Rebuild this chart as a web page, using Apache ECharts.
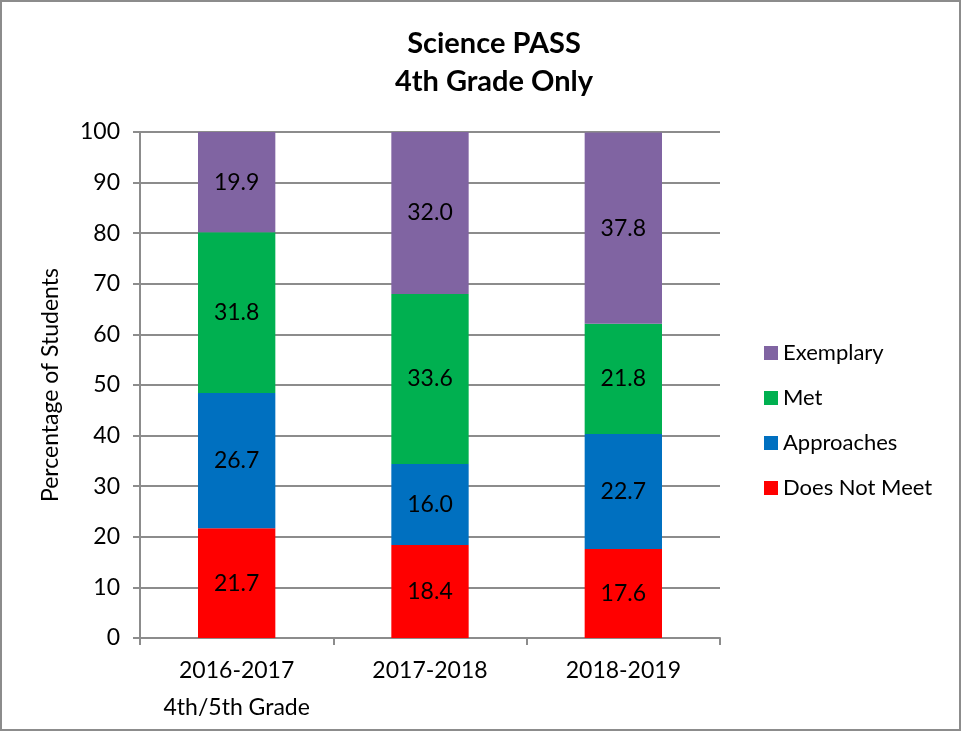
<!DOCTYPE html>
<html>
<head>
<meta charset="utf-8">
<script src="https://cdn.jsdelivr.net/npm/echarts@6/dist/echarts.min.js"></script>
<style>
    html, body {margin: 0; padding: 0; background: #fff;}
    #chart {width: 957px; height: 727px; border: 2px solid #8c8c8c;}
</style>
</head>
<body>
<div id="chart"></div>
<script>
//类目
var years = ['2016-2017\n4th/5th Grade', '2017-2018', '2018-2019'];
//各等级百分比
var doesNotMeet = [21.7, 18.4, 17.6];
var approaches = [26.7, 16.0, 22.7];
var met = [31.8, 33.6, 21.8];
var exemplary = [19.9, 32.0, 37.8];

var fontName = 'Lato';
var gridColor = '#8c8c8c';

function makeSeries(name, data, color) {
    return {
        name: name,
        type: 'bar',
        stack: 'total',
        barWidth: '40%',
        data: data,
        itemStyle: {color: color},
        label: {
            show: true,
            position: 'inside',
            color: '#000',
            fontFamily: fontName,
            fontSize: 23,
            formatter: function (p) {
                return p.value.toFixed(1);
            }
        }
    };
}

var chart = echarts.init(document.getElementById('chart'));
chart.setOption({
    animation: false,
    title: {
        text: 'Science PASS\n4th Grade Only',
        left: 487,
        top: 18,
        textAlign: 'center',
        textStyle: {
            fontFamily: fontName,
            fontSize: 29,
            fontWeight: 'bold',
            color: '#000',
            lineHeight: 38
        }
    },
    legend: {
        orient: 'vertical',
        left: 757,
        top: 335,
        itemGap: 23,
        itemWidth: 14,
        itemHeight: 14,
        icon: 'rect',
        data: ['Exemplary', 'Met', 'Approaches', 'Does Not Meet'],
        textStyle: {fontFamily: fontName, fontSize: 22, color: '#000'}
    },
    grid: {left: 138, right: 239, top: 130, bottom: 91},
    xAxis: {
        type: 'category',
        data: years,
        axisLine: {lineStyle: {color: gridColor, width: 2}},
        axisTick: {show: true, length: 7, lineStyle: {color: gridColor, width: 2}},
        axisLabel: {fontFamily: fontName, fontSize: 23, color: '#000', margin: 14, lineHeight: 37}
    },
    yAxis: {
        type: 'value',
        min: 0,
        max: 100,
        interval: 10,
        name: 'Percentage of Students',
        nameLocation: 'middle',
        nameGap: 78,
        nameTextStyle: {fontFamily: fontName, fontSize: 23, color: '#000'},
        axisLine: {show: true, lineStyle: {color: gridColor, width: 2}},
        axisTick: {show: true, length: 7, lineStyle: {color: gridColor, width: 2}},
        axisLabel: {fontFamily: fontName, fontSize: 23, color: '#000', margin: 20},
        splitLine: {lineStyle: {color: gridColor, width: 2}}
    },
    series: [
        makeSeries('Does Not Meet', doesNotMeet, '#ff0000'),
        makeSeries('Approaches', approaches, '#0070c0'),
        makeSeries('Met', met, '#00b050'),
        makeSeries('Exemplary', exemplary, '#8064a2')
    ]
});
</script>
</body>
</html>
